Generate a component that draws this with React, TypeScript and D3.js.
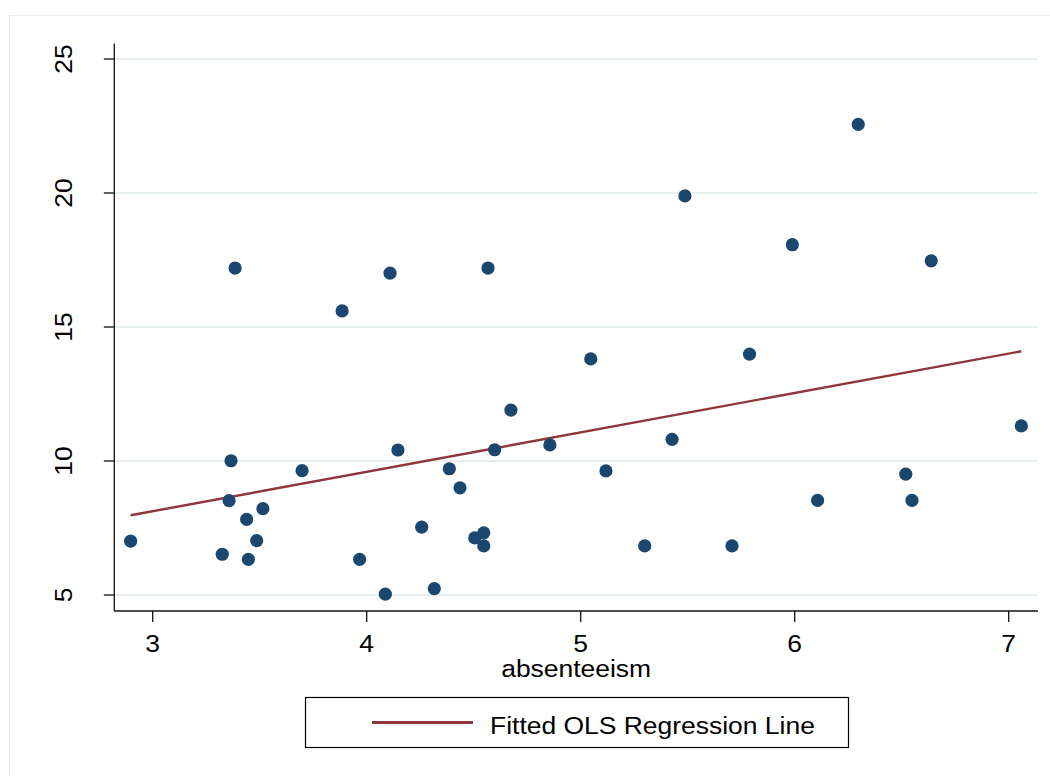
import React from "react";
import * as d3 from "d3";

// Data
const absenteeism = [
  2.897, 3.325, 3.357, 3.366, 3.385, 3.439, 3.447, 3.486, 3.515, 3.698,
  3.885, 3.967, 4.087, 4.109, 4.146, 4.257, 4.316, 4.386, 4.436, 4.505,
  4.547, 4.547, 4.567, 4.598, 4.674, 4.856, 5.047, 5.118, 5.299, 5.427,
  5.487, 5.707, 5.789, 5.989, 6.107, 6.297, 6.519, 6.548, 6.638, 7.059,
];
const outcome = [
  7.01, 6.52, 8.52, 10.01, 17.2, 7.82, 6.33, 7.03, 8.22, 9.64,
  15.6, 6.33, 5.03, 17.01, 10.41, 7.53, 5.24, 9.71, 9.0, 7.13,
  7.32, 6.83, 17.2, 10.42, 11.9, 10.6, 13.81, 9.63, 6.83, 10.81,
  19.89, 6.83, 13.99, 18.07, 8.53, 22.56, 9.51, 8.53, 17.47, 11.31,
];
const xTicks = [3, 4, 5, 6, 7];
const yTicks = [5, 10, 15, 20, 25];
const xLabel = "absenteeism";
const legendLabel = "Fitted OLS Regression Line";

const W = 1050;
const H = 776;
const left = 114.3;
const right = 1038;
const top = 43.6;
const bottom = 611;
const FONT = "'Liberation Sans', Arial, Helvetica, sans-serif";
const FS = 24.5;
const SX = 1.08;

const NAVY = "#1a476f";
const MAROON = "#90353b";
const GRID = "#e8eff1";

export default function App() {
  const x = d3.scaleLinear().domain([3, 7]).range([152.7, 1008.7]);
  const y = d3.scaleLinear().domain([5, 25]).range([595, 59]);

  const pts = absenteeism.map((v, i) => ({ x: v, y: outcome[i] }));
  const mx = d3.mean(absenteeism) as number;
  const my = d3.mean(outcome) as number;
  const sxy = d3.sum(pts, (p) => (p.x - mx) * (p.y - my));
  const sxx = d3.sum(pts, (p) => (p.x - mx) * (p.x - mx));
  const slope = sxy / sxx;
  const intercept = my - slope * mx;
  const [x0, x1] = d3.extent(absenteeism) as [number, number];
  const fit = [x0, x1].map((v) => ({ x: v, y: intercept + slope * v }));
  const line = d3
    .line<{ x: number; y: number }>()
    .x((d) => x(d.x))
    .y((d) => y(d.y));

  return (
    <div style={{ position: "absolute", left: 0, top: 0 }}>
      <svg width={W} height={H} style={{ display: "block", background: "#fff" }}>
        <rect x={0} y={0} width={W} height={H} fill="#fff" />
        <rect x={9.5} y={15.5} width={W + 20} height={H + 20} fill="#fff" stroke="#e6ecee" strokeWidth={1} />

        {/* grid lines */}
        {yTicks.map((t) => (
          <line key={"g" + t} x1={left} x2={right} y1={y(t)} y2={y(t)} stroke={GRID} strokeWidth={2} />
        ))}

        {/* fitted line */}
        <path d={line(fit) || ""} fill="none" stroke={MAROON} strokeWidth={2.4} />

        {/* points */}
        {pts.map((p, i) => (
          <circle key={i} cx={x(p.x)} cy={y(p.y)} r={6.6} fill={NAVY} />
        ))}

        {/* axes */}
        <line x1={left} x2={left} y1={top} y2={bottom} stroke="#111" strokeWidth={1.3} />
        <line x1={left} x2={right} y1={bottom} y2={bottom} stroke="#111" strokeWidth={1.3} />
        {yTicks.map((t) => (
          <g key={"yt" + t}>
            <line x1={left - 10.5} x2={left} y1={y(t)} y2={y(t)} stroke="#111" strokeWidth={1.3} />
            <text
              transform={`translate(72,${y(t)}) rotate(-90) scale(${SX},1)`}
              textAnchor="middle"
              fontFamily={FONT}
              fontSize={FS}
              fill="#000"
            >
              {t}
            </text>
          </g>
        ))}
        {xTicks.map((t) => (
          <g key={"xt" + t}>
            <line x1={x(t)} x2={x(t)} y1={bottom} y2={bottom + 11} stroke="#111" strokeWidth={1.3} />
            <text
              transform={`translate(${x(t)},652) scale(${SX},1)`}
              textAnchor="middle"
              fontFamily={FONT}
              fontSize={FS}
              fill="#000"
            >
              {t}
            </text>
          </g>
        ))}
        <text
          transform={`translate(${(left + right) / 2},677) scale(${SX},1)`}
          textAnchor="middle"
          fontFamily={FONT}
          fontSize={FS}
          fill="#000"
        >
          {xLabel}
        </text>

        {/* legend */}
        <rect x={305.5} y={697.5} width={543} height={50} fill="#fff" stroke="#000" strokeWidth={1.2} />
        <line x1={372} x2={473} y1={722.5} y2={722.5} stroke={MAROON} strokeWidth={2.8} />
        <text
          transform={`translate(490,734) scale(${SX},1)`}
          fontFamily={FONT}
          fontSize={FS}
          fill="#000"
        >
          {legendLabel}
        </text>
      </svg>
    </div>
  );
}
